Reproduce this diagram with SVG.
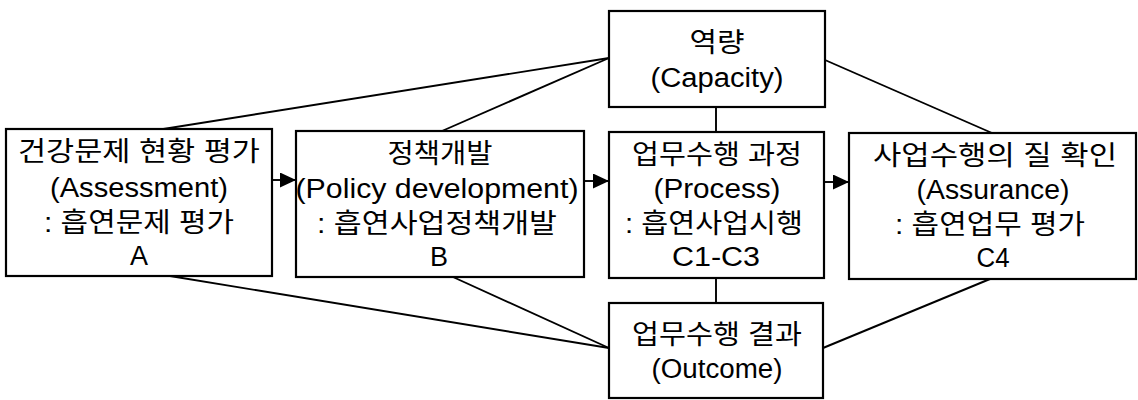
<svg xmlns="http://www.w3.org/2000/svg" width="1138" height="400" viewBox="0 0 1138 400">
<defs>
<style>
.box{fill:#fff;stroke:#000;stroke-width:2.2}
.ln{fill:none;stroke:#000;stroke-width:1.9}
text{font-family:"Liberation Sans","Noto Sans CJK KR",sans-serif;font-size:27px;fill:#000;text-anchor:middle}
</style>
<marker id="ah" markerUnits="userSpaceOnUse" markerWidth="16" markerHeight="15" refX="16" refY="7.5" orient="auto">
<path d="M0,0 L16,7.5 L0,15 Z" fill="#000"/>
</marker>
</defs>
<rect width="1138" height="400" fill="#fff"/>
<g id="connectors">
<line class="ln" x1="157" y1="130" x2="609" y2="58"/>
<line class="ln" x1="442" y1="131" x2="609" y2="58"/>
<line class="ln" x1="825" y1="60" x2="992" y2="133"/>
<line class="ln" x1="716" y1="107" x2="716" y2="132"/>
<line class="ln" x1="716" y1="278" x2="716" y2="303"/>
<line class="ln" x1="170" y1="276" x2="609" y2="348"/>
<line class="ln" x1="453" y1="277" x2="609" y2="348"/>
<line class="ln" x1="823" y1="348" x2="990" y2="279"/>
<line class="ln" x1="272" y1="180" x2="296" y2="180" marker-end="url(#ah)"/>
<line class="ln" x1="584" y1="181" x2="609" y2="181" marker-end="url(#ah)"/>
<line class="ln" x1="824" y1="182" x2="849" y2="182" marker-end="url(#ah)"/>
</g>
<g id="nodeA">
<rect class="box" x="6" y="129" width="266" height="147"/>
<text x="139" y="161" textLength="242" lengthAdjust="spacingAndGlyphs">건강문제 현황 평가</text>
<text x="139" y="197" textLength="178" lengthAdjust="spacingAndGlyphs">(Assessment)</text>
<text x="139" y="232" textLength="190" lengthAdjust="spacingAndGlyphs">: 흡연문제 평가</text>
<text x="139" y="265">A</text>
</g>
<g id="nodeB">
<rect class="box" x="296" y="131" width="288" height="146"/>
<text x="440" y="163" textLength="105" lengthAdjust="spacingAndGlyphs">정책개발</text>
<text x="437" y="198" textLength="283" lengthAdjust="spacingAndGlyphs">(Policy development)</text>
<text x="437" y="233" textLength="240" lengthAdjust="spacingAndGlyphs">: 흡연사업정책개발</text>
<text x="439" y="266">B</text>
</g>
<g id="nodeCapacity">
<rect class="box" x="609" y="11" width="216" height="96"/>
<text x="717" y="52" textLength="55" lengthAdjust="spacingAndGlyphs">역량</text>
<text x="717" y="87" textLength="133" lengthAdjust="spacingAndGlyphs">(Capacity)</text>
</g>
<g id="nodeProcess">
<rect class="box" x="609" y="132" width="215" height="146"/>
<text x="717" y="164" textLength="170" lengthAdjust="spacingAndGlyphs">업무수행 과정</text>
<text x="717" y="198" textLength="127" lengthAdjust="spacingAndGlyphs">(Process)</text>
<text x="714" y="233" textLength="178" lengthAdjust="spacingAndGlyphs">: 흡연사업시행</text>
<text x="716" y="266" textLength="88" lengthAdjust="spacingAndGlyphs">C1-C3</text>
</g>
<g id="nodeOutcome">
<rect class="box" x="609" y="303" width="214" height="95"/>
<text x="717" y="344" textLength="170" lengthAdjust="spacingAndGlyphs">업무수행 결과</text>
<text x="717" y="378" textLength="131" lengthAdjust="spacingAndGlyphs">(Outcome)</text>
</g>
<g id="nodeAssurance">
<rect class="box" x="849" y="133" width="287" height="146"/>
<text x="995" y="165" textLength="244" lengthAdjust="spacingAndGlyphs">사업수행의 질 확인</text>
<text x="993" y="199" textLength="153" lengthAdjust="spacingAndGlyphs">(Assurance)</text>
<text x="990" y="234" textLength="190" lengthAdjust="spacingAndGlyphs">: 흡연업무 평가</text>
<text x="993" y="267" textLength="33" lengthAdjust="spacingAndGlyphs">C4</text>
</g>
</svg>
